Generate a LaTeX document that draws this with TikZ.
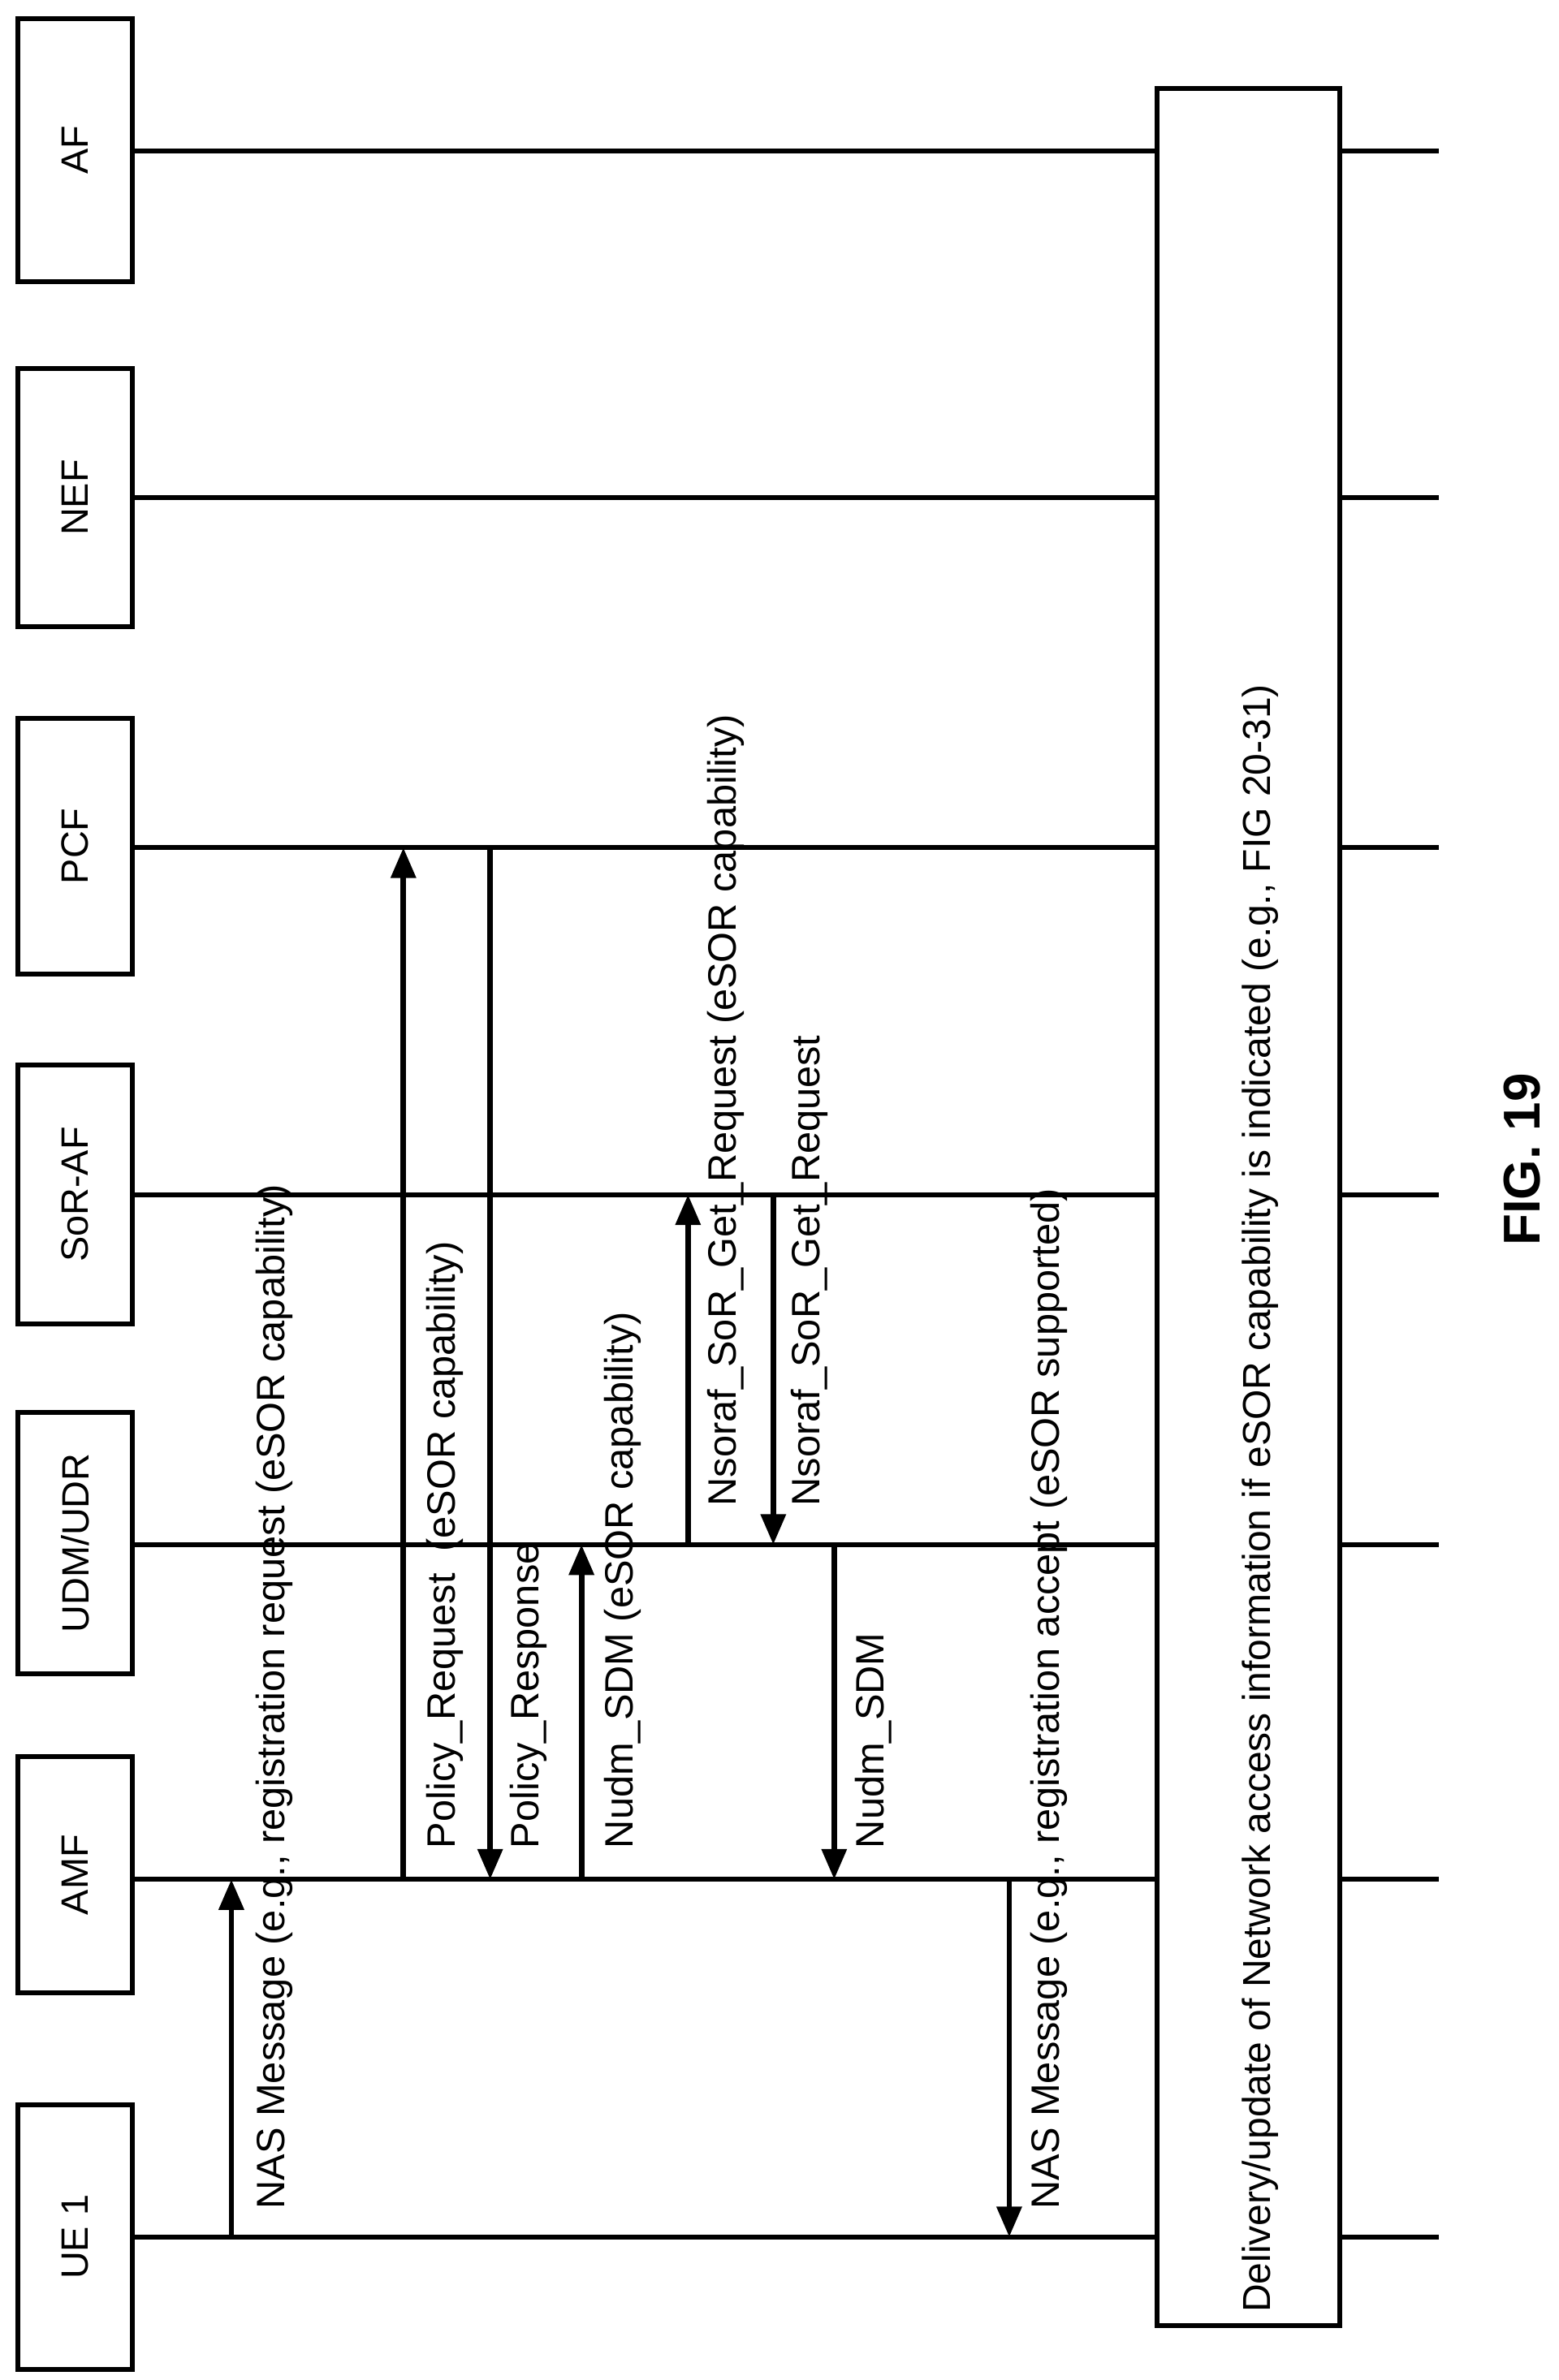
\documentclass[tikz,border=0pt]{standalone}
\usepackage{fontspec}
\setmainfont{Liberation Sans}
\usetikzlibrary{arrows.meta}
\begin{document}
\begin{tikzpicture}[x=0.5pt,y=-0.5pt,
  ent/.style={draw,line width=1.6pt,fill=white,minimum height=37.5pt,inner sep=0pt,font=\fontsize{12.5}{14}\selectfont,rotate=90},
  life/.style={line width=1.6pt},
  msg/.style={line width=1.8pt,-{Triangle[length=10pt,width=8pt]}},
  lab/.style={rotate=90,anchor=west,font=\fontsize{13}{15}\selectfont,inner sep=0pt}]
\useasboundingbox (0,0) rectangle (1024,1564);
% lifelines
\foreach \n/\y in {ue/1470,amf/1235,udm/1015,sor/785,pcf/557,nef/327,af/99}{
  \coordinate (\n L) at (87,\y); \coordinate (\n R) at (945,\y);
  \draw[life] (\n L) -- (\n R);}
% entity boxes
\node[ent,minimum width=87pt] (ue) at (49.5,1470) {UE 1};
\node[ent,minimum width=77.5pt] (amf) at (49.5,1232) {AMF};
\node[ent,minimum width=86pt] (udm) at (49.5,1014) {UDM/UDR};
\node[ent,minimum width=85pt] (sor) at (49.5,785) {SoR-AF};
\node[ent,minimum width=84pt] (pcf) at (49.5,556) {PCF};
\node[ent,minimum width=85pt] (nef) at (49.5,327) {NEF};
\node[ent,minimum width=86.5pt] (af) at (49.5,98.5) {AF};
% big box
\node[draw,line width=1.6pt,fill=white,minimum width=60pt,minimum height=735pt,inner sep=0pt] (big) at (820,793) {};
\node[lab,font=\fontsize{12.8}{15}\selectfont] (bigt) at (828,1520) {Delivery/update of Network access information if eSOR capability is indicated (e.g., FIG 20-31)};
% messages
\coordinate (a1) at (152,1470); \coordinate (a2) at (152,1235);
\draw[msg] (a1) -- (a2);
\node[lab] (l1) at (180,1452) {NAS Message (e.g., registration request (eSOR capability)};
\coordinate (b1) at (265,1235); \coordinate (b2) at (265,557);
\draw[msg] (b1) -- (b2);
\node[lab] (l2) at (292,1215) {Policy\_Request \ (eSOR capability)};
\coordinate (c1) at (322,557); \coordinate (c2) at (322,1235);
\draw[msg] (c1) -- (c2);
\node[lab] (l3) at (347,1215) {Policy\_Response};
\coordinate (d1) at (382,1235); \coordinate (d2) at (382,1015);
\draw[msg] (d1) -- (d2);
\node[lab] (l4) at (409,1215) {Nudm\_SDM (eSOR capability)};
\coordinate (e1) at (452,1015); \coordinate (e2) at (452,785);
\draw[msg] (e1) -- (e2);
\node[lab] (l5) at (477,990) {Nsoraf\_SoR\_Get\_Request (eSOR capability)};
\coordinate (f1) at (508,785); \coordinate (f2) at (508,1015);
\draw[msg] (f1) -- (f2);
\node[lab] (l6) at (532,990) {Nsoraf\_SoR\_Get\_Request};
\coordinate (g1) at (548,1015); \coordinate (g2) at (548,1235);
\draw[msg] (g1) -- (g2);
\node[lab] (l7) at (574,1215) {Nudm\_SDM};
\coordinate (h1) at (663,1235); \coordinate (h2) at (663,1470);
\draw[msg] (h1) -- (h2);
\node[lab] (l8) at (689,1452) {NAS Message (e.g., registration accept (eSOR supported)};
\node[rotate=90,font=\bfseries\fontsize{17}{19}\selectfont] (fig) at (1000,762) {FIG. 19};
\end{tikzpicture}
\end{document}
